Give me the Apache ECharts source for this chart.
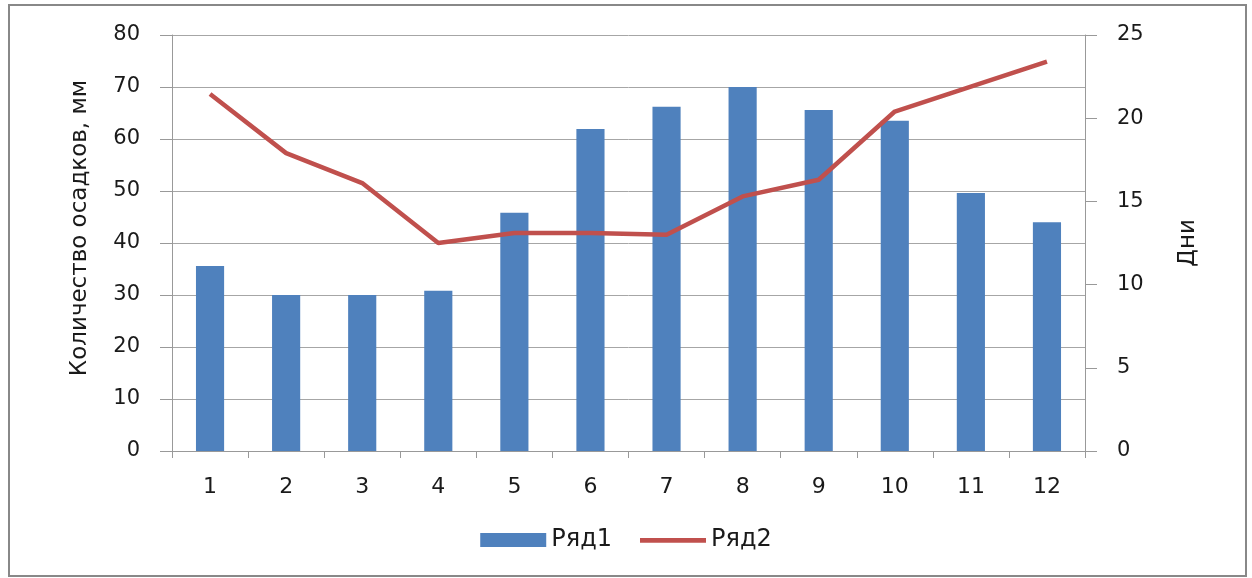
<!DOCTYPE html>
<html><head><meta charset="utf-8">
<script src="https://cdn.jsdelivr.net/npm/echarts@6/dist/echarts.min.js"></script>
<style>html,body{margin:0;padding:0;background:#fff}#c{width:1252px;height:578px}</style>
</head><body><div id="c"></div>
<script>
const categories = ['1','2','3','4','5','6','7','8','9','10','11','12'];
const precipitation = [35.6, 30.0, 30.0, 30.8, 45.8, 61.9, 66.2, 70.0, 65.6, 63.5, 49.6, 44.0];
const days = [21.45, 17.9, 16.1, 12.5, 13.1, 13.1, 13.0, 15.3, 16.3, 20.4, 21.9, 23.4];
const seriesNames = ['Ряд1', 'Ряд2'];
const leftAxisName = 'Количество осадков, мм';
const rightAxisName = 'Дни';

const font = 'DejaVu Sans';
const textColor = '#1a1a1a';
const chart = echarts.init(document.getElementById('c'), null, {renderer: 'canvas'});
chart.setOption({
  animation: false,
  backgroundColor: '#fff',
  textStyle: {fontFamily: font},
  graphic: [{
    type: 'rect', shape: {x: 9, y: 5, width: 1237, height: 571},
    style: {fill: 'none', stroke: '#888', lineWidth: 2}, silent: true
  }],
  grid: {left: 172, right: 167, top: 35, bottom: 127, containLabel: false},
  legend: {
    data: [
      {name: seriesNames[0], icon: 'rect'},
      {name: seriesNames[1], icon: 'path://M0,0L0,0M0,5L70,5L70,10L0,10ZM70,14L70,14'}
    ],
    bottom: 21, left: 'center',
    itemWidth: 66, itemHeight: 14, itemGap: 28,
    textStyle: {fontSize: 24, color: textColor, fontFamily: font}
  },
  xAxis: {
    type: 'category', data: categories, boundaryGap: true,
    axisLine: {lineStyle: {color: '#999', width: 1}},
    axisTick: {show: true, length: 7, lineStyle: {color: '#999'}, inside: false},
    axisLabel: {fontSize: 22, color: textColor, margin: 25, fontFamily: font}
  },
  yAxis: [{
    type: 'value', min: 0, max: 80, interval: 10,
    name: leftAxisName, nameLocation: 'middle', nameGap: 80, nameRotate: 90,
    nameTextStyle: {fontSize: 23, color: textColor, fontFamily: font, padding: [0, 0, 0, 30]},
    axisLine: {show: true, lineStyle: {color: '#999'}},
    axisTick: {show: true, length: 12, lineStyle: {color: '#999'}},
    axisLabel: {fontSize: 21, color: textColor, margin: 32, fontFamily: font},
    splitLine: {lineStyle: {color: '#a6a6a6', width: 1}}
  }, {
    type: 'value', min: 0, max: 25, interval: 5,
    name: rightAxisName, nameLocation: 'middle', nameGap: 92, nameRotate: 90,
    nameTextStyle: {fontSize: 23, color: textColor, fontFamily: font},
    axisLine: {show: true, lineStyle: {color: '#999'}},
    axisTick: {show: true, length: 12, lineStyle: {color: '#999'}},
    axisLabel: {fontSize: 21, color: textColor, margin: 32, fontFamily: font},
    splitLine: {show: false}
  }],
  series: [{
    name: seriesNames[0], type: 'bar', data: precipitation, yAxisIndex: 0,
    barWidth: '37%', itemStyle: {color: '#4F81BD'}
  }, {
    name: seriesNames[1], type: 'line', data: days, yAxisIndex: 1,
    symbol: 'none', lineStyle: {color: '#C0504D', width: 4.5}, itemStyle: {color: '#C0504D'}
  }]
});
</script></body></html>
